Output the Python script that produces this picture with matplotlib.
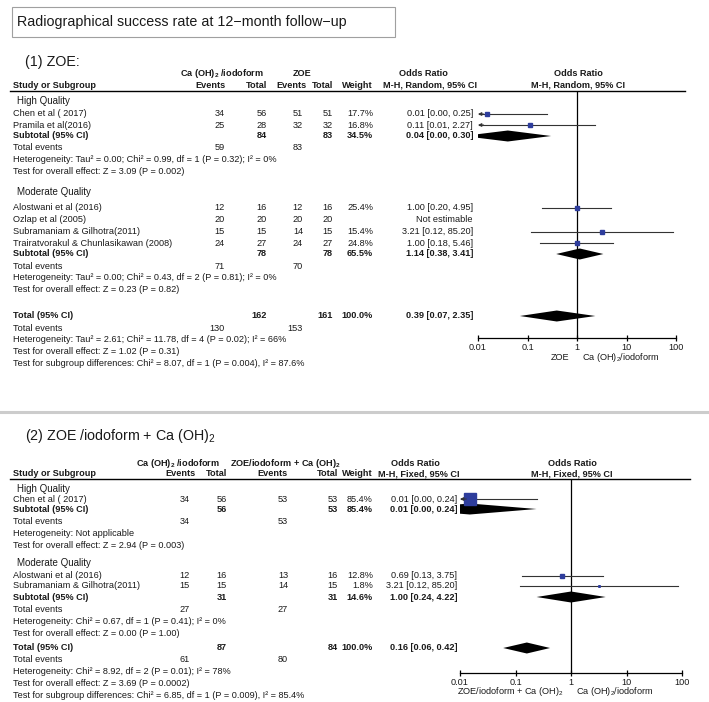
import matplotlib
matplotlib.use('Agg')
import matplotlib.pyplot as plt
from matplotlib.lines import Line2D
from matplotlib.patches import Rectangle

plt.rcParams['font.family'] = 'Liberation Sans'
plt.rcParams['mathtext.fontset'] = 'custom'
plt.rcParams['mathtext.rm'] = 'Liberation Sans'
plt.rcParams['mathtext.bf'] = 'Liberation Sans:bold'
plt.rcParams['mathtext.default'] = 'regular'

# ---- panel 1: Ca(OH)2/iodoform vs ZOE (random effects) ----
p1_study = ["Chen et al ( 2017)", "Pramila et al(2016)", "Alostwani et al (2016)",
            "Ozlap et al (2005)", "Subramaniam & Gilhotra(2011)",
            "Trairatvorakul & Chunlasikawan (2008)"]
p1_group = [0, 0, 1, 1, 1, 1]
p1_ev_a = [34, 25, 12, 20, 15, 24]
p1_n_a = [56, 28, 16, 20, 15, 27]
p1_ev_b = [51, 32, 12, 20, 14, 24]
p1_n_b = [51, 32, 16, 20, 15, 27]
p1_weight = [17.7, 16.8, 25.4, None, 15.4, 24.8]
p1_or = [0.015, 0.11, 1.00, None, 3.21, 1.00]
p1_lo = [0.0009, 0.0055, 0.20, None, 0.12, 0.18]
p1_hi = [0.25, 2.27, 4.95, None, 85.20, 5.46]
p1_ci = ["0.01 [0.00, 0.25]", "0.11 [0.01, 2.27]", "1.00 [0.20, 4.95]",
         "Not estimable", "3.21 [0.12, 85.20]", "1.00 [0.18, 5.46]"]
p1_groups = ["High Quality", "Moderate Quality"]
p1_sub_n_a = [84, 78]
p1_sub_n_b = [83, 78]
p1_sub_w = ["34.5%", "65.5%"]
p1_sub_or = [0.04, 1.14]
p1_sub_lo = [0.005, 0.38]
p1_sub_hi = [0.30, 3.41]
p1_sub_ci = ["0.04 [0.00, 0.30]", "1.14 [0.38, 3.41]"]
p1_sub_ev_a = [59, 71]
p1_sub_ev_b = [83, 70]
p1_sub_het = ["Heterogeneity: Tau\u00b2 = 0.00; Chi\u00b2 = 0.99, df = 1 (P = 0.32); I\u00b2 = 0%",
              "Heterogeneity: Tau\u00b2 = 0.00; Chi\u00b2 = 0.43, df = 2 (P = 0.81); I\u00b2 = 0%"]
p1_sub_z = ["Test for overall effect: Z = 3.09 (P = 0.002)",
            "Test for overall effect: Z = 0.23 (P = 0.82)"]
p1_tot = [162, 161, "100.0%", 0.39, 0.07, 2.35, "0.39 [0.07, 2.35]", 130, 153]
p1_tot_text = ["Heterogeneity: Tau\u00b2 = 2.61; Chi\u00b2 = 11.78, df = 4 (P = 0.02); I\u00b2 = 66%",
               "Test for overall effect: Z = 1.02 (P = 0.31)",
               "Test for subgroup differences: Chi\u00b2 = 8.07, df = 1 (P = 0.004), I\u00b2 = 87.6%"]

# ---- panel 2: Ca(OH)2/iodoform vs ZOE/iodoform + Ca(OH)2 (fixed effect) ----
p2_study = ["Chen et al ( 2017)", "Alostwani et al (2016)", "Subramaniam & Gilhotra(2011)"]
p2_group = [0, 1, 1]
p2_ev_a = [34, 12, 15]
p2_n_a = [56, 16, 15]
p2_ev_b = [53, 13, 14]
p2_n_b = [53, 16, 15]
p2_weight = [85.4, 12.8, 1.8]
p2_or = [0.015, 0.69, 3.21]
p2_lo = [0.0009, 0.13, 0.12]
p2_hi = [0.24, 3.75, 85.20]
p2_ci = ["0.01 [0.00, 0.24]", "0.69 [0.13, 3.75]", "3.21 [0.12, 85.20]"]
p2_groups = ["High Quality", "Moderate Quality"]
p2_sub_n_a = [56, 31]
p2_sub_n_b = [53, 31]
p2_sub_w = ["85.4%", "14.6%"]
p2_sub_or = [0.015, 1.00]
p2_sub_lo = [0.0009, 0.24]
p2_sub_hi = [0.24, 4.22]
p2_sub_ci = ["0.01 [0.00, 0.24]", "1.00 [0.24, 4.22]"]
p2_sub_ev_a = [34, 27]
p2_sub_ev_b = [53, 27]
p2_sub_het = ["Heterogeneity: Not applicable",
              "Heterogeneity: Chi\u00b2 = 0.67, df = 1 (P = 0.41); I\u00b2 = 0%"]
p2_sub_z = ["Test for overall effect: Z = 2.94 (P = 0.003)",
            "Test for overall effect: Z = 0.00 (P = 1.00)"]
p2_tot = [87, 84, "100.0%", 0.16, 0.06, 0.42, "0.16 [0.06, 0.42]", 61, 80]
p2_tot_text = ["Heterogeneity: Chi\u00b2 = 8.92, df = 2 (P = 0.01); I\u00b2 = 78%",
               "Test for overall effect: Z = 3.69 (P = 0.0002)",
               "Test for subgroup differences: Chi\u00b2 = 6.85, df = 1 (P = 0.009), I\u00b2 = 85.4%"]

ticks = [0.01, 0.1, 1, 10, 100]
tick_labels = ["0.01", "0.1", "1", "10", "100"]

W, H = 709, 702
FS = 6.6
TXT = '#1a1a1a'
BLUE = '#2e3d9c'

fig = plt.figure(figsize=(W / 100, H / 100), dpi=100)


def T(x, y, s, ha='left', bold=False, size=FS):
    fig.text(x / W, 1 - y / H, s, ha=ha, va='center', fontsize=size,
             fontweight='bold' if bold else 'normal', color=TXT)


def hline(x0, x1, y, lw=1.0, color='black'):
    fig.add_artist(Line2D([x0 / W, x1 / W], [1 - y / H, 1 - y / H], lw=lw, color=color))


def panel(rows, cols, ax_px, hdr, study, group, ev_a, n_a, ev_b, n_b, weight,
          orr, lo, hi, ci, groups, sn_a, sn_b, sw, sor, slo, shi, sci, sev_a, sev_b,
          shet, sz, tot, tot_text, sq_scale, xlab):
    c = cols
    # header
    T(c['h1a'], rows['h1'], hdr[0], ha='center', bold=True)
    T(c['h1b'], rows['h1'], hdr[1], ha='center', bold=True)
    T(c['orh'], rows['h1'], "Odds Ratio", ha='center', bold=True)
    T(c['axc'], rows['h1'], "Odds Ratio", ha='center', bold=True)
    T(13, rows['h2'], "Study or Subgroup", bold=True)
    T(c['eva_h'], rows['h2'], "Events", ha='center', bold=True)
    T(c['na'], rows['h2'], "Total", ha='right', bold=True)
    T(c['evb_h'], rows['h2'], "Events", ha='center', bold=True)
    T(c['nb'], rows['h2'], "Total", ha='right', bold=True)
    T(c['w'], rows['h2'], "Weight", ha='right', bold=True)
    T(c['mhh'], rows['h2'], hdr[2], ha='center', bold=True)
    T(c['axc'], rows['h2'], hdr[2], ha='center', bold=True)
    hline(10, c['lineend'], rows['line'])

    x0, x1, ytop, ybot = ax_px
    ax = fig.add_axes([x0 / W, 1 - ybot / H, (x1 - x0) / W, (ybot - ytop) / H])
    ax.set_xscale('log')
    ax.set_xlim(0.01, 100)
    ax.set_ylim(ybot, ytop)
    ax.patch.set_alpha(0)
    for s in ['top', 'left', 'right']:
        ax.spines[s].set_visible(False)
    ax.spines['bottom'].set_linewidth(0.9)
    ax.set_yticks([])
    ax.set_xticks(ticks)
    ax.set_xticklabels(tick_labels, fontsize=FS, color=TXT)
    ax.xaxis.set_minor_locator(plt.NullLocator())
    ax.tick_params(axis='x', direction='inout', length=5, width=0.9, pad=1)
    ax.axvline(1, color='black', lw=0.9)

    def diamond(est, l, h, y, hh):
        ax.fill([l, est, h, est], [y, y - hh, y, y + hh], color='black', lw=0)

    for g in range(2):
        T(17, rows['gq'][g], groups[g], size=FS + 0.4)
        for i in range(len(study)):
            if group[i] != g:
                continue
            y = rows['study'][i]
            T(13, y, study[i])
            T(c['eva'], y, str(ev_a[i]), ha='right')
            T(c['na'], y, str(n_a[i]), ha='right')
            T(c['evb'], y, str(ev_b[i]), ha='right')
            T(c['nb'], y, str(n_b[i]), ha='right')
            if weight[i] is not None:
                T(c['w'], y, f"{weight[i]:.1f}%", ha='right')
            T(c['ci'], y, ci[i], ha='right')
            if orr[i] is None:
                continue
            ax.plot([max(lo[i], 0.0105), hi[i]], [y, y], color='#333333', lw=0.8)
            if lo[i] < 0.01:
                ax.annotate('', xy=(0.01, y), xytext=(0.013, y),
                            arrowprops=dict(arrowstyle='-|>', lw=0.7, color='#333333',
                                            mutation_scale=5, shrinkA=0, shrinkB=0))
            ax.plot([orr[i]], [y], marker='s', ms=sq_scale * weight[i] ** 0.5 * 0.72,
                    color=BLUE, mec=BLUE, lw=0)
        y = rows['sub'][g]
        T(13, y, "Subtotal (95% CI)", bold=True)
        T(c['na'], y, str(sn_a[g]), ha='right', bold=True)
        T(c['nb'], y, str(sn_b[g]), ha='right', bold=True)
        T(c['w'], y, sw[g], ha='right', bold=True)
        T(c['ci'], y, sci[g], ha='right', bold=True)
        diamond(sor[g], slo[g], shi[g], y, 5.5)
        T(13, rows['ev'][g], "Total events")
        T(c['eva'], rows['ev'][g], str(sev_a[g]), ha='right')
        T(c['evb'], rows['ev'][g], str(sev_b[g]), ha='right')
        T(13, rows['het'][g], shet[g])
        T(13, rows['z'][g], sz[g])

    y = rows['tot']
    T(13, y, "Total (95% CI)", bold=True)
    T(c['na'], y, str(tot[0]), ha='right', bold=True)
    T(c['nb'], y, str(tot[1]), ha='right', bold=True)
    T(c['w'], y, tot[2], ha='right', bold=True)
    T(c['ci'], y, tot[6], ha='right', bold=True)
    diamond(tot[3], tot[4], tot[5], y, 5.5)
    T(13, rows['totev'], "Total events")
    T(c['eva'], rows['totev'], str(tot[7]), ha='right')
    T(c['evb'], rows['totev'], str(tot[8]), ha='right')
    for k, s in enumerate(tot_text):
        T(13, rows['totev'] + 12 * (k + 1), s)

    T(c['axc'] - 9, rows['xlab'], xlab[0], ha='right')
    T(c['axc'] + 4, rows['xlab'], xlab[1], ha='left')


# title box
fig.add_artist(Rectangle((12 / W, 1 - 37 / H), 383 / W, 30 / H, fill=False,
                         edgecolor='#a0a0a0', lw=0.8))
T(17, 22, "Radiographical success rate at 12\u2212month follow\u2212up", size=10.3)

# panel 1
T(25, 62, "(1) ZOE:", size=10.3)
rows1 = dict(h1=73, h2=85, line=91, gq=[101, 192], study=[114, 125, 208, 220, 232, 243],
             sub=[136, 254], ev=[148, 266], het=[160, 278], z=[172, 290],
             tot=316, totev=328, xlab=357)
cols1 = dict(h1a=222, h1b=302, eva_h=210, evb_h=291, eva=225, na=267, evb=303, nb=333,
             w=373, ci=473, orh=423, mhh=430, axc=578, lineend=685)
panel(rows1, cols1, (478, 676, 91, 338),
      [r"Ca (OH)$\mathbf{_2}$ /iodoform", "ZOE", "M-H, Random, 95% CI"],
      p1_study, p1_group, p1_ev_a, p1_n_a, p1_ev_b, p1_n_b, p1_weight,
      p1_or, p1_lo, p1_hi, p1_ci, p1_groups, p1_sub_n_a, p1_sub_n_b, p1_sub_w,
      p1_sub_or, p1_sub_lo, p1_sub_hi, p1_sub_ci, p1_sub_ev_a, p1_sub_ev_b,
      p1_sub_het, p1_sub_z, p1_tot, p1_tot_text, 0.95,
      ["ZOE", r"Ca (OH)$_2$/iodoform"])

# separator
hline(0, 709, 412, lw=2.2, color='#cccccc')

# panel 2
T(25, 436, r"(2) ZOE /iodoform + Ca (OH)$_2$", size=10.3)
rows2 = dict(h1=463, h2=474, line=479, gq=[489, 563], study=[499, 576, 586],
             sub=[509, 597], ev=[521, 609], het=[533, 621], z=[545, 633],
             tot=648, totev=660, xlab=692)
cols2 = dict(h1a=178, h1b=285, eva_h=180, evb_h=272, eva=190, na=227, evb=288, nb=338,
             w=373, ci=457, orh=415, mhh=419, axc=572, lineend=690)
panel(rows2, cols2, (460, 682, 479, 673),
      [r"Ca (OH)$\mathbf{_2}$ /iodoform", r"ZOE/iodoform + Ca (OH)$\mathbf{_2}$",
       "M-H, Fixed, 95% CI"],
      p2_study, p2_group, p2_ev_a, p2_n_a, p2_ev_b, p2_n_b, p2_weight,
      p2_or, p2_lo, p2_hi, p2_ci, p2_groups, p2_sub_n_a, p2_sub_n_b, p2_sub_w,
      p2_sub_or, p2_sub_lo, p2_sub_hi, p2_sub_ci, p2_sub_ev_a, p2_sub_ev_b,
      p2_sub_het, p2_sub_z, p2_tot, p2_tot_text, 1.2,
      [r"ZOE/iodoform + Ca (OH)$_2$", r"Ca (OH)$_2$/iodoform"])

fig.savefig('out.png', dpi=100)
